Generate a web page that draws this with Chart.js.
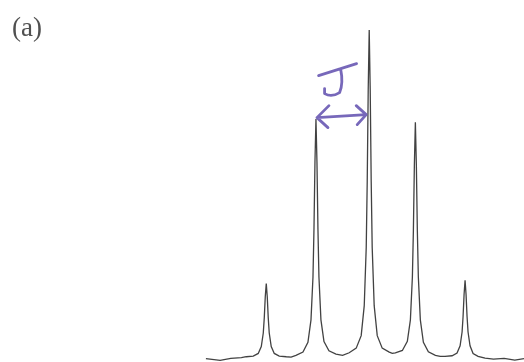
<!DOCTYPE html>
<html>
<head>
<meta charset="utf-8">
<script src="https://cdn.jsdelivr.net/npm/chart.js@4/dist/chart.umd.min.js"></script>
<style>
  body { margin: 0; background: #fff; }
  #wrap { width: 524px; height: 362px; position: relative; }
</style>
</head>
<body>
<div id="wrap"><canvas id="spectrum"></canvas></div>
<script>
// quintet, shift in Hz from the centre line, intensity relative to tallest = 100
const shiftHz = [
  -23, -21, -19.5, -18, -17.32, -16.33, -15.63, -15.2, -14.92, -14.78, -14.64,
  -14.5, -14.36, -14.22, -14.08, -13.8, -13.37, -12.67, -11.68, -11,
  -10.32, -9.33, -8.63, -8.2, -7.92, -7.78, -7.64, -7.5, -7.36, -7.22, -7.08,
  -6.8, -6.37, -5.67, -4.68, -3.75,
  -2.82, -1.83, -1.13, -0.7, -0.42, -0.28, -0.14, 0, 0.14, 0.28, 0.42,
  0.7, 1.13, 1.83, 2.82, 3.25,
  3.68, 4.67, 5.37, 5.8, 6.08, 6.22, 6.36, 6.5, 6.64, 6.78, 6.92,
  7.2, 7.63, 8.33, 9.32, 10,
  10.68, 11.67, 12.37, 12.8, 13.08, 13.22, 13.36, 13.5, 13.64, 13.78, 13.92,
  14.2, 14.63, 15.33, 16.32, 17.5, 19, 20.5, 21.8
];
const intensity = [
  0.2, -0.3, 0.3, 0.5, 0.8, 1.0, 1.8, 3.9, 8.0, 12.6, 19,
  23, 19, 12.6, 8.0, 3.9, 1.8, 1.0, 0.8, 0.7,
  1.2, 2.2, 5.2, 12, 25, 39.5, 60, 73, 60, 39.5, 25,
  12, 5.4, 2.6, 1.6, 1.2,
  2.0, 3.4, 7.2, 16.3, 34, 54, 82, 100, 82, 54, 34,
  16.3, 7.2, 3.4, 2.2, 1.8,
  2.0, 2.7, 5.5, 12, 25, 39, 59, 72, 59, 39, 25,
  12, 5.2, 2.3, 1.2, 0.9,
  0.9, 1.1, 1.9, 4.1, 8.3, 13, 19.7, 24, 19.7, 13, 8.3,
  4.1, 1.8, 0.9, 0.4, 0.1, 0.3, -0.2, 0.2
];
const panelLabel = '(a)';
const jFrom = -7.5, jTo = 0, jLevel = 74;

const points = shiftHz.map((x, i) => ({ x: x, y: intensity[i] }));

const marks = {
  id: 'marks',
  afterDatasetsDraw(chart) {
    const ctx = chart.ctx;
    const xs = chart.scales.x, ys = chart.scales.y;
    ctx.save();
    // panel label
    ctx.fillStyle = '#505050';
    ctx.font = '27px "Liberation Serif", "DejaVu Serif", serif';
    ctx.textBaseline = 'alphabetic';
    ctx.fillText(panelLabel, 12, 36);

    // hand drawn coupling arrow between peaks 2 and 3
    const x1 = xs.getPixelForValue(jFrom) + 1;
    const x2 = xs.getPixelForValue(jTo) - 3;
    const y0 = ys.getPixelForValue(jLevel);
    ctx.strokeStyle = 'rgba(104,88,178,0.9)';
    ctx.lineWidth = 2.8;
    ctx.lineCap = 'round';
    ctx.lineJoin = 'round';
    ctx.beginPath();
    ctx.moveTo(x1, y0 + 2); ctx.lineTo(x2, y0 - 1);
    ctx.moveTo(x1 + 12, y0 - 10); ctx.lineTo(x1, y0 + 2); ctx.lineTo(x1 + 11, y0 + 12);
    ctx.moveTo(x2 - 10, y0 - 10); ctx.lineTo(x2, y0 - 1); ctx.lineTo(x2 - 9, y0 + 9);
    ctx.stroke();

    // the "J" above it, stroked like handwriting
    const cx = (x1 + x2) / 2;
    ctx.beginPath();
    ctx.moveTo(cx - 23, y0 - 40);
    ctx.lineTo(cx + 15, y0 - 52);
    ctx.moveTo(cx - 1, y0 - 47);
    ctx.quadraticCurveTo(cx + 2, y0 - 32, cx - 2, y0 - 23);
    ctx.quadraticCurveTo(cx - 10, y0 - 18, cx - 17, y0 - 22);
    ctx.lineTo(cx - 17, y0 - 27);
    ctx.stroke();
    ctx.restore();
  }
};

new Chart(document.getElementById('spectrum'), {
  type: 'line',
  data: {
    datasets: [{
      data: points,
      borderColor: 'rgba(45,45,45,0.9)',
      borderWidth: 1.3,
      pointRadius: 0,
      tension: 0,
      fill: false
    }]
  },
  options: {
    responsive: true,
    maintainAspectRatio: false,
    animation: false,
    layout: { padding: 0 },
    plugins: { legend: { display: false }, tooltip: { enabled: false } },
    scales: {
      x: { type: 'linear', display: false, min: -52, max: 21.8 },
      y: { display: false, min: -0.8, max: 109.1 }
    }
  },
  plugins: [marks]
});
</script>
</body>
</html>
